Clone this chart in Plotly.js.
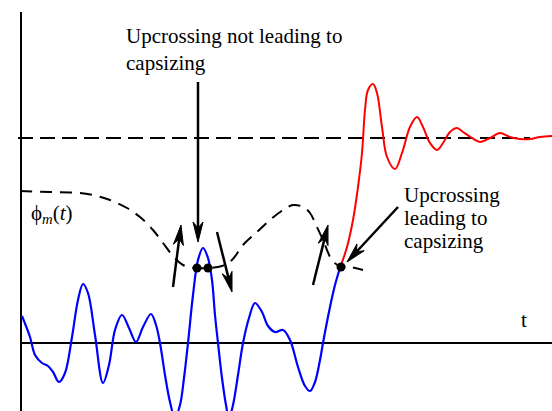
<!DOCTYPE html>
<html>
<head>
<meta charset="utf-8">
<script src="https://cdn.plot.ly/plotly-3.0.1.min.js"></script>
<style>
  html, body { margin: 0; padding: 0; background: #fff; }
  #chart { width: 552px; height: 411px; }
</style>
</head>
<body>
<div id="chart"></div>
<script>
// Time runs left to right; roll angle is measured upward from the t axis.

// Wave-induced roll response (blue)
const waveT = [22, 30, 35, 42, 48, 53, 59, 65, 72, 78, 83, 88, 95, 103, 109, 115, 122, 129, 136, 143,
               151, 156, 160, 165, 170, 175, 180, 184, 188, 193, 198, 203, 208, 212, 215, 218, 222, 226,
               229, 233, 238, 243, 249, 255, 262, 268, 275, 283, 290, 298, 305, 310, 315, 320, 323, 330,
               335, 340];
const waveRoll = [27, 6, -12, -20, -23, -29, -39, -30, 6, 43, 59, 50, 8, -40, -22, 13, 28, 15, 1, 16,
                  29, 18, 0, -32, -59, -75, -62, -35, 0, 48, 83, 95, 85, 63, 28, 0, -35, -62,
                  -75, -62, -32, 0, 25, 40, 31, 17, 11, 13, 3, -24, -43, -48, -39, -17, 0, 36,
                  58, 75];

// Roll motion after the capsizing upcrossing (red)
const capsizeT = [340, 347, 353, 358, 362, 365, 368, 373, 377, 382, 387, 395, 402, 410, 417, 423, 430,
                  437, 443, 450, 457, 463, 472, 480, 490, 500, 510, 520, 530, 540, 552];
const capsizeRoll = [75, 96, 123, 156, 190, 233, 253, 259, 250, 216, 186, 174, 190, 216, 226, 216, 200,
                     193, 200, 211, 215, 211, 205, 201, 205, 210, 206, 204, 204, 206, 207];

// Time-varying threshold phi_m(t)
const thresholdT = [20, 50, 80, 97, 110, 127, 140, 153, 163, 173, 183, 195, 210, 222, 232, 243, 257,
                    270, 283, 293, 303, 310, 317, 323, 332, 341, 350, 363];
const thresholdRoll = [152, 151, 150, 147, 143, 135, 126, 113, 100, 87, 78, 75, 75, 77, 83, 98, 111,
                       123, 133, 138, 136, 130, 116, 103, 83, 76, 76, 73];

// Capsized equilibrium level
const steadyT = [18, 530];
const steadyRoll = [205, 205];

// Upcrossing points
const crossingT = [197, 208, 341];
const crossingRoll = [75, 75, 76];

// Arrows: tail -> tip
const arrowTailT = [198, 173, 217, 313, 398];
const arrowTailRoll = [261, 56, 111, 58, 136];
const arrowTipT = [198, 181, 232, 328, 347];
const arrowTipRoll = [101, 118, 51, 118, 81];

const serif = 'Liberation Serif';

const traces = [
  {
    x: steadyT, y: steadyRoll, mode: 'lines', hoverinfo: 'skip',
    line: { color: '#000', width: 2, dash: '15px,7px' }
  },
  {
    x: thresholdT, y: thresholdRoll, mode: 'lines', hoverinfo: 'skip',
    line: { color: '#000', width: 2, dash: '12px,8px', shape: 'spline', smoothing: 1 }
  },
  {
    x: waveT, y: waveRoll, mode: 'lines', hoverinfo: 'skip',
    line: { color: '#0000ff', width: 2.2, shape: 'spline', smoothing: 1 }
  },
  {
    x: capsizeT, y: capsizeRoll, mode: 'lines', hoverinfo: 'skip',
    line: { color: '#ff0000', width: 2, shape: 'spline', smoothing: 1 }
  },
  {
    x: crossingT, y: crossingRoll, mode: 'markers', hoverinfo: 'skip',
    marker: { color: '#000', size: 9 }
  }
];

// Stealth-style arrow: shaft line plus a narrow notched head
function arrowShapes(sx, sy, tx, ty) {
  const dx = tx - sx, dy = ty - sy;
  const len = Math.hypot(dx, dy);
  const ux = dx / len, uy = dy / len;
  const nx = -uy, ny = ux;
  const L = 20, W = 5, N = 6;
  const bx = tx - L * ux, by = ty - L * uy;
  const lx = bx + W * nx, ly = by + W * ny;
  const rx = bx - W * nx, ry = by - W * ny;
  const cx = tx - (L - N) * ux, cy = ty - (L - N) * uy;
  return [
    { type: 'line', xref: 'x', yref: 'y', x0: sx, y0: sy, x1: cx, y1: cy,
      line: { color: '#000', width: 2.5 } },
    { type: 'path', xref: 'x', yref: 'y',
      path: `M${tx},${ty} L${lx},${ly} L${cx},${cy} L${rx},${ry} Z`,
      fillcolor: '#000', line: { color: '#000', width: 1 } }
  ];
}

const shapes = [
  // roll axis and time axis
  { type: 'line', xref: 'x', yref: 'y', x0: 21, y0: 331, x1: 21, y1: -68,
    line: { color: '#000', width: 2 }, layer: 'below' },
  { type: 'line', xref: 'x', yref: 'y', x0: 20, y0: 0, x1: 552, y1: 0,
    line: { color: '#000', width: 2 }, layer: 'below' }
];
for (let i = 0; i < arrowTipT.length; i++) {
  shapes.push(...arrowShapes(arrowTailT[i], arrowTailRoll[i], arrowTipT[i], arrowTipRoll[i]));
}

function label(text, x, y, xanchor) {
  return {
    text: text, x: x, y: y, xref: 'x', yref: 'y',
    xanchor: xanchor || 'left', yanchor: 'middle', showarrow: false, borderpad: 0,
    font: { family: serif, size: 21, color: '#000' }
  };
}

const annotations = [
  label('Upcrossing not leading to', 125, 307),
  label('capsizing', 125, 280),
  label('Upcrossing', 403, 148),
  label('leading to', 403, 125),
  label('capsizing', 403, 102),
  label('t', 524, 23, 'center'),
  label('ϕ<i><sub>m</sub></i>(<i>t</i>)', 30, 129)
];

const layout = {
  width: 552, height: 411,
  margin: { l: 0, r: 0, t: 0, b: 0, pad: 0 },
  paper_bgcolor: '#fff', plot_bgcolor: '#fff',
  showlegend: false,
  font: { family: serif },
  xaxis: { range: [0, 552], visible: false, fixedrange: true },
  yaxis: { range: [-68, 343], visible: false, fixedrange: true },
  shapes: shapes,
  annotations: annotations
};

Plotly.newPlot('chart', traces, layout, { staticPlot: true, displayModeBar: false });
</script>
</body>
</html>
